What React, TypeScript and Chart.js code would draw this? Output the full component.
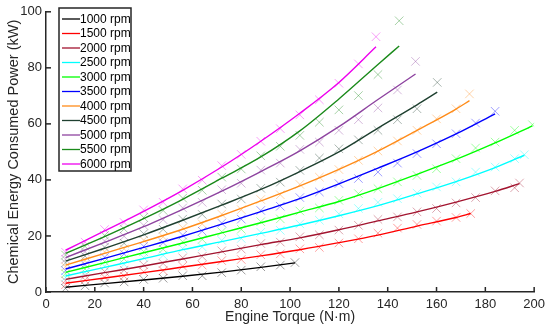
import React, { useEffect, useRef } from 'react';
import { Chart, registerables } from 'chart.js';

Chart.register(...registerables);

// ---------- data ----------
const speedLabels = ['1000 rpm', '1500 rpm', '2000 rpm', '2500 rpm', '3000 rpm', '3500 rpm', '4000 rpm', '4500 rpm', '5000 rpm', '5500 rpm', '6000 rpm'];

// torque (N·m) where each speed's fitted curve and measurements end
const endTorque = [102, 174, 194, 196, 199.3, 184, 173.5, 160.3, 151.4, 144.7, 135.2];

// torque grid for fitted-curve anchors (last anchor of each series is its endTorque)
const curveTorque = [8, 24, 40, 56, 72, 88, 104, 120, 136, 152, 168, 184];
// torque grid for measured points (last point of each series is at its endTorque)
const pointTorque = [8, 16, 24, 32, 40, 48, 56, 64, 72, 80, 88, 96, 104, 112, 120, 128, 136, 144, 152, 160, 168, 176, 184, 192];

// fitted curves (kW)
const fit1000 = [1.7, 3.0, 4.3, 5.6, 7.1, 8.8, 10.4];
const fit1500 = [3.1, 5.0, 6.9, 8.9, 10.9, 12.9, 15.1, 17.6, 20.3, 23.5, 26.6, 28.0];
const fit2000 = [4.5, 6.9, 9.3, 11.8, 14.3, 16.9, 19.3, 22.2, 25.4, 28.6, 32.1, 35.9, 38.7];
const fit2500 = [5.7, 8.8, 11.9, 15.1, 18.0, 20.9, 23.9, 27.2, 30.8, 35.0, 39.4, 44.4, 48.8];
const fit3000 = [7.0, 10.5, 14.0, 17.5, 21.1, 24.7, 28.5, 32.3, 36.9, 42.0, 47.3, 53.2, 59.3];
const fit3500 = [8.2, 12.0, 15.9, 19.9, 24.2, 28.7, 33.3, 38.6, 44.2, 50.0, 56.4, 63.6];
const fit4000 = [9.6, 13.8, 18.0, 22.4, 27.3, 32.5, 37.9, 43.8, 50.3, 57.7, 65.3, 68.3];
const fit4500 = [11.0, 15.6, 20.4, 25.6, 31.0, 36.6, 43.0, 50.0, 58.5, 66.8, 71.3];
const fit5000 = [12.3, 17.7, 23.3, 29.5, 36.0, 43.0, 50.4, 59.0, 68.7, 77.8];
const fit5500 = [13.8, 19.8, 26.2, 33.1, 40.6, 48.2, 57.5, 68.9, 81.2, 87.8];
const fit6000 = [14.9, 21.8, 28.8, 36.3, 44.6, 53.8, 63.8, 74.8, 87.5];

// measured points (kW)
const meas1000 = [1.3, 2.2, 3.2, 3.6, 4.5, 4.9, 5.8, 5.8, 6.9, 7.8, 9.0, 9.6, 10.5];
const meas1500 = [2.6, 4.3, 5.3, 5.7, 7.2, 7.6, 9.2, 9.6, 11.2, 11.6, 13.3, 13.6, 15.4, 15.9, 17.5, 19.0, 21.0, 22.8, 24.1, 25.3, 26.6, 28.0];
const meas2000 = [4.0, 5.9, 7.3, 7.8, 9.7, 10.2, 12.2, 12.7, 14.7, 15.3, 17.3, 17.8, 19.7, 20.4, 22.1, 23.8, 25.9, 26.8, 28.6, 29.8, 31.8, 33.7, 36.1, 37.2, 38.9];
const meas2500 = [5.2, 7.0, 9.2, 9.9, 12.3, 13.1, 15.5, 16.1, 18.4, 19.1, 21.3, 22.0, 24.3, 25.6, 27.9, 29.8, 32.0, 33.3, 35.3, 37.5, 39.3, 42.8, 44.6, 47.6, 49.0];
const meas3000 = [6.5, 8.2, 10.9, 11.8, 14.4, 15.3, 17.9, 18.8, 21.5, 22.4, 25.1, 26.1, 28.9, 30.0, 32.7, 35.1, 36.9, 39.3, 41.6, 44.0, 47.6, 51.4, 53.5, 57.7, 59.7];
const meas3500 = [7.6, 9.8, 12.4, 13.6, 16.3, 17.6, 20.3, 21.7, 24.6, 26.0, 29.1, 30.6, 33.7, 35.7, 38.7, 40.5, 42.8, 46.0, 49.4, 52.9, 56.5, 60.3, 64.5];
const meas4000 = [9.0, 11.2, 14.3, 15.4, 18.5, 19.7, 22.9, 24.3, 27.8, 29.4, 33.0, 34.7, 38.4, 41.0, 43.7, 47.0, 50.3, 53.9, 57.7, 61.8, 65.4, 70.7];
const meas4500 = [10.4, 12.8, 16.0, 17.4, 20.8, 22.4, 26.0, 27.7, 31.4, 33.2, 37.0, 39.2, 43.4, 47.8, 51.1, 54.3, 57.7, 61.5, 65.4, 74.8];
const meas5000 = [11.7, 14.4, 18.2, 19.9, 23.8, 25.8, 30.0, 32.0, 36.5, 38.8, 43.5, 46.0, 50.9, 53.5, 57.7, 61.5, 65.7, 72.1, 82.3];
const meas5500 = [13.2, 16.3, 20.2, 22.5, 26.6, 29.1, 33.5, 36.3, 41.0, 43.9, 48.6, 52.0, 55.9, 60.6, 65.0, 70.1, 77.6, 96.8];
const meas6000 = [14.2, 17.8, 22.3, 24.8, 29.3, 32.0, 36.8, 39.9, 45.1, 49.1, 53.8, 58.3, 63.2, 68.6, 74.5, 81.4, 91.1];

const fits = [fit1000, fit1500, fit2000, fit2500, fit3000, fit3500, fit4000, fit4500, fit5000, fit5500, fit6000];
const measured = [meas1000, meas1500, meas2000, meas2500, meas3000, meas3500, meas4000, meas4500, meas5000, meas5500, meas6000];

const xTicks = { min: 0, max: 200, step: 20 };
const yTicks = { min: 0, max: 100, step: 20 };

// ---------- styles ----------
const lineColors = ['#000000', '#ff0000', '#a2142f', '#00ffff', '#00ff00', '#0000ff', '#ff8c1a', '#1f4030', '#8e44a0', '#1a8a1a', '#ee00ee'];
const FONT = '"Liberation Sans", Arial, sans-serif';
const AXIS = '#262626';

function hexToRgba(hex: string, a: number) {
  const n = parseInt(hex.slice(1), 16);
  return `rgba(${(n >> 16) & 255},${(n >> 8) & 255},${n & 255},${a})`;
}

function toPoints(values: number[], grid: number[], end: number) {
  return values.map((v, i) => ({ x: i < values.length - 1 ? grid[i] : end, y: v }));
}

const inwardTicks = {
  id: 'inwardTicks',
  afterDatasetsDraw(chart: any) {
    const { ctx, chartArea, scales } = chart;
    const x = scales.x;
    const y = scales.y;
    ctx.save();
    ctx.strokeStyle = AXIS;
    ctx.lineWidth = 1.5;
    x.ticks.forEach((t: any) => {
      const px = x.getPixelForValue(t.value);
      ctx.beginPath();
      ctx.moveTo(px, chartArea.bottom);
      ctx.lineTo(px, chartArea.bottom - 5);
      ctx.stroke();
    });
    y.ticks.forEach((t: any) => {
      const py = y.getPixelForValue(t.value);
      ctx.beginPath();
      ctx.moveTo(chartArea.left, py);
      ctx.lineTo(chartArea.left + 5, py);
      ctx.stroke();
    });
    ctx.restore();
  },
};

const boxLegend = {
  id: 'boxLegend',
  afterDraw(chart: any) {
    const { ctx } = chart;
    const items = chart.data.datasets.filter((d: any) => d.isFit);
    const left = 59;
    const top = 8;
    const w = 72;
    const rowH = 14.5;
    const h = rowH * items.length + 3.5;
    ctx.save();
    ctx.fillStyle = '#ffffff';
    ctx.fillRect(left, top, w, h);
    ctx.strokeStyle = AXIS;
    ctx.lineWidth = 1.5;
    ctx.strokeRect(left, top, w, h);
    ctx.font = `12px ${FONT}`;
    ctx.textBaseline = 'middle';
    ctx.textAlign = 'left';
    items.forEach((d: any, i: number) => {
      const cy = top + 11 + rowH * i;
      ctx.strokeStyle = d.borderColor;
      ctx.lineWidth = 1.3;
      ctx.beginPath();
      ctx.moveTo(left + 3, cy);
      ctx.lineTo(left + 21, cy);
      ctx.stroke();
      ctx.fillStyle = '#000';
      ctx.fillText(d.label, left + 21, cy + 0.5);
    });
    ctx.restore();
  },
};

export default function App() {
  const canvasRef = useRef<HTMLCanvasElement | null>(null);

  useEffect(() => {
    document.body.style.margin = '0';
    const canvas = canvasRef.current;
    if (!canvas) return;

    const datasets: any[] = [];
    speedLabels.forEach((label, i) => {
      datasets.push({
        label,
        isFit: true,
        data: toPoints(fits[i], curveTorque, endTorque[i]),
        showLine: true,
        borderColor: lineColors[i],
        backgroundColor: lineColors[i],
        borderWidth: 1.4,
        pointRadius: 0,
        cubicInterpolationMode: 'monotone',
        order: 0,
      });
    });
    speedLabels.forEach((label, i) => {
      datasets.push({
        label: label + ' measured',
        isFit: false,
        data: toPoints(measured[i], pointTorque, endTorque[i]),
        showLine: false,
        pointStyle: 'crossRot',
        pointRadius: 6,
        pointBorderWidth: 1,
        borderColor: hexToRgba(lineColors[i], 0.38),
        backgroundColor: hexToRgba(lineColors[i], 0.38),
        order: 1,
      });
    });

    const chart = new Chart(canvas, {
      type: 'scatter',
      data: { datasets },
      options: {
        animation: false,
        responsive: false,
        devicePixelRatio: 1,
        events: [],
        layout: { padding: { left: 0, right: 14, top: 10, bottom: 0 } },
        plugins: { legend: { display: false }, tooltip: { enabled: false } },
        scales: {
          x: {
            type: 'linear',
            min: xTicks.min,
            max: xTicks.max,
            grid: { display: false, drawTicks: false },
            border: { display: true, color: AXIS, width: 1.5 },
            ticks: { stepSize: xTicks.step, padding: 5, color: AXIS, font: { family: FONT, size: 13 } },
            title: { display: true, text: 'Engine Torque (N·m)', color: AXIS, font: { family: FONT, size: 14 }, padding: { top: 0, bottom: 4 } },
            afterFit: (s: any) => { s.height = 38; },
          },
          y: {
            type: 'linear',
            min: yTicks.min,
            max: yTicks.max,
            grid: { display: false, drawTicks: false },
            border: { display: true, color: AXIS, width: 1.5 },
            ticks: { stepSize: yTicks.step, padding: 4, color: AXIS, font: { family: FONT, size: 13 } },
            title: { display: true, text: 'Chemical Energy Consumed Power (kW)', color: AXIS, font: { family: FONT, size: 14.5 }, padding: { top: 5, bottom: 0 } },
            afterFit: (s: any) => { s.width = 46; },
          },
        },
      } as any,
      plugins: [inwardTicks, boxLegend],
    });

    return () => chart.destroy();
  }, []);

  return (
    <div style={{ position: 'absolute', left: 0, top: 0, width: 550, height: 330, background: '#fff' }}>
      <canvas ref={canvasRef} width={550} height={330} />
    </div>
  );
}
